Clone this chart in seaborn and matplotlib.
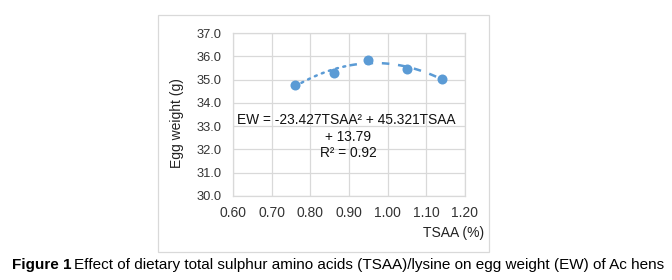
import numpy as np
import pandas as pd
import seaborn as sns
import matplotlib
matplotlib.use("Agg")
import matplotlib.pyplot as plt

tsaa = [0.76, 0.86, 0.95, 1.05, 1.14]
egg_weight = [34.78, 35.30, 35.86, 35.47, 35.02]
x_ticks = [0.60, 0.70, 0.80, 0.90, 1.00, 1.10, 1.20]
y_ticks = [30.0, 31.0, 32.0, 33.0, 34.0, 35.0, 36.0, 37.0]
eq_lines = ["EW = -23.427TSAA² + 45.321TSAA", "+ 13.79", "R² = 0.92"]
poly_coef = [-23.427, 45.321, 13.79]

sns.set_theme(style="whitegrid")
plt.rcParams['font.family'] = ['Liberation Sans', 'DejaVu Sans']

fig = plt.figure(figsize=(6.72, 2.8), dpi=100)
ax = fig.add_axes([233/672, 1-196/280, (465-233)/672, (196-33)/280])

df = pd.DataFrame({"TSAA": tsaa, "EW": egg_weight})
blue = "#5b9bd5"

# trendline from the published equation
xs = np.linspace(min(tsaa), max(tsaa), 200)
ys = np.polyval(poly_coef, xs)
m = xs <= 0.90
ax.plot(xs[m], ys[m], color=blue, lw=1.8, linestyle=(0, (0.8, 2.2)), dash_capstyle="round")
ax.plot(xs[~m], ys[~m], color=blue, lw=1.8, linestyle=(0, (3, 3.5)))

sns.scatterplot(data=df, x="TSAA", y="EW", ax=ax, color=blue, s=52,
                edgecolor=blue, linewidth=0, zorder=3)

ax.set_xlim(0.60, 1.20)
ax.set_ylim(30.0, 37.0)
ax.set_xticks(x_ticks)
ax.set_xticklabels([f"{v:.2f}" for v in x_ticks], fontsize=10, color="#333333")
ax.set_yticks(y_ticks)
ax.set_yticklabels([f"{v:.1f}" for v in y_ticks], fontsize=9.3, color="#333333")
ax.tick_params(axis="both", length=0)
ax.tick_params(axis="x", pad=7)
ax.tick_params(axis="y", pad=8)
ax.grid(True, color="#d9d9d9", lw=0.9)
for s in ax.spines.values():
    s.set_color("#d9d9d9")
    s.set_linewidth(0.9)
ax.set_xlabel("")
ax.set_ylabel("")

fig.text(177/672, 1-123/280, "Egg weight (g)", rotation=90, ha="center", va="center",
         fontsize=10, color="#222222")
fig.text(484/672, 1-233/280, "TSAA (%)", ha="right", va="center", fontsize=10, color="#222222")

fig.text(346.5/672, 1-120/280, eq_lines[0], ha="center", va="center", fontsize=9.9, color="#111111")
fig.text(348/672, 1-137/280, eq_lines[1], ha="center", va="center", fontsize=9.9, color="#111111")
fig.text(348/672, 1-153/280, eq_lines[2], ha="center", va="center", fontsize=9.9, color="#111111")

# chart border
rect = plt.Rectangle((158/672, 1-252/280), (489-158)/672, (252-15)/280, transform=fig.transFigure,
                     fill=False, edgecolor="#d9d9d9", lw=0.9)
fig.add_artist(rect)

# caption
t1 = fig.text(12/672, 1-265/280, "Figure 1", fontweight="bold", ha="left", va="center",
              fontsize=11, color="black")
fig.canvas.draw()
bb = t1.get_window_extent()
fig.text((bb.x1 + 3)/672, 1-265/280,
         "Effect of dietary total sulphur amino acids (TSAA)/lysine on egg weight (EW) of Ac hens",
         ha="left", va="center", fontsize=11, color="black")

fig.savefig("out.png", dpi=100)
